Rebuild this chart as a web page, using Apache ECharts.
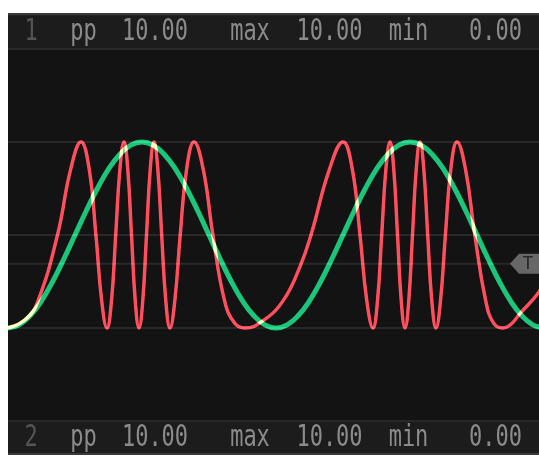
<!DOCTYPE html>
<html>
<head>
<meta charset="utf-8">
<script src="https://cdn.jsdelivr.net/npm/echarts@6/dist/echarts.min.js"></script>
<style>
  html, body { margin: 0; padding: 0; background: #ffffff; }
  #scope { position: absolute; left: 8px; top: 13px; width: 531px; height: 442px; }
</style>
</head>
<body>
<div id="scope"></div>
<script>
// Channel 1 (green): reference sine, 24 samples per period
const ch1Time = [0, 11.17, 22.33, 33.5, 44.67, 55.83, 67, 78.17, 89.33, 100.5, 111.67, 122.83,
  134, 145.17, 156.33, 167.5, 178.67, 189.83, 201, 212.17, 223.33, 234.5, 245.67, 256.83,
  268, 279.17, 290.33, 301.5, 312.67, 323.83, 335, 346.17, 357.33, 368.5, 379.67, 390.83,
  402, 413.17, 424.33, 435.5, 446.67, 457.83, 469, 480.17, 491.33, 502.5, 513.67, 524.83, 536];
const ch1Volts = [0, 0.17, 0.67, 1.46, 2.5, 3.71, 5, 6.29, 7.5, 8.54, 9.33, 9.83,
  10, 9.83, 9.33, 8.54, 7.5, 6.29, 5, 3.71, 2.5, 1.46, 0.67, 0.17,
  0, 0.17, 0.67, 1.46, 2.5, 3.71, 5, 6.29, 7.5, 8.54, 9.33, 9.83,
  10, 9.83, 9.33, 8.54, 7.5, 6.29, 5, 3.71, 2.5, 1.46, 0.67, 0.17, 0];

// Channel 2 (red): frequency-modulated carrier, peaks / troughs / quarter-phase samples
const ch2Time = [0, 18, 30, 49.5, 62.7, 73, 81.2, 87.9, 93.7, 99,
  103.5, 107.7, 111.9, 116, 119.75, 123.5, 127.25, 131, 134.75, 138.5,
  142.25, 146, 149.8, 153.7, 157.8, 162, 166.8, 172.2, 178.6, 186,
  195.2, 204.9, 216.6, 226.8, 237, 254, 275, 292, 303, 321.5,
  335, 344.3, 352, 358.8, 365, 369.5, 373.7, 377.9, 382, 385.75,
  389.5, 393.25, 397, 400.75, 404.5, 408.25, 412, 415.8, 419.7, 423.8,
  428, 432.5, 437.4, 442.8, 449, 457.5, 466.8, 477.75, 485.8, 495,
  503, 512, 531, 539];
const ch2Volts = [0, 0.48, 1.46, 5, 8.54, 10, 8.54, 5, 1.46, 0,
  1.46, 5, 8.54, 10, 8.54, 5, 1.46, 0, 1.46, 5,
  8.54, 10, 8.54, 5, 1.46, 0, 1.46, 5, 8.54, 10,
  8.54, 5, 1.46, 0.25, 0, 0.35, 1.46, 3.3, 5, 8.54,
  10, 8.54, 5, 1.46, 0, 1.46, 5, 8.54, 10, 8.54,
  5, 1.46, 0, 1.46, 5, 8.54, 10, 8.54, 5, 1.46,
  0, 1.46, 5, 8.54, 10, 8.54, 5, 1.46, 0.25, 0,
  0.2, 0.78, 1.94, 2.87];

const triggerLevel = 3.45;
const timeSpan = [0, 531];
const voltRange = [-5, 15];
const voltStep = 5;

// Measurement readouts, one row per channel
const readoutTop = ['1', 'pp', '10.00', 'max', '10.00', 'min', '0.00'];
const readoutBottom = ['2', 'pp', '10.00', 'max', '10.00', 'min', '0.00'];

const chart = echarts.init(document.getElementById('scope'), null, { renderer: 'canvas' });

const GRID_LINE = '#282828';
const BAR_FILL = '#1c1c1c';
const FRAME = '#3a3a3a';
const FONT = '22px "DejaVu Sans Mono"';
const readoutX = [23, 75.5, 147, 242, 321.5, 400.5, 487.5];

function readoutRow(tokens, cy) {
  return tokens.map((t, i) => ({
    type: 'text',
    x: readoutX[i],
    y: cy,
    scaleY: 1.33,
    z: 10,
    style: {
      text: t,
      font: FONT,
      fill: i === 0 ? '#555555' : '#8b8b8b',
      align: 'center', textAlign: 'center',
      verticalAlign: 'middle', textVerticalAlign: 'middle'
    }
  }));
}

const pairs = (xs, ys) => xs.map((x, i) => [x, ys[i]]);

chart.setOption({
  animation: false,
  backgroundColor: '#131313',
  grid: { left: 0, right: 0, top: 36, bottom: 34 },
  xAxis: {
    type: 'value', min: timeSpan[0], max: timeSpan[1],
    show: false, splitLine: { show: false }
  },
  yAxis: {
    type: 'value', min: voltRange[0], max: voltRange[1], interval: voltStep,
    axisLine: { show: false }, axisTick: { show: false }, axisLabel: { show: false },
    splitLine: { show: true, lineStyle: { color: GRID_LINE, width: 2 } }
  },
  graphic: [
    { type: 'rect', z: -1, shape: { x: 0, y: 0, width: 531, height: 2.5 }, style: { fill: FRAME } },
    { type: 'rect', z: -1, shape: { x: 0, y: 2.5, width: 531, height: 33 }, style: { fill: BAR_FILL } },
    { type: 'rect', z: -1, shape: { x: 0, y: 409, width: 531, height: 31 }, style: { fill: BAR_FILL } },
    { type: 'rect', z: -1, shape: { x: 0, y: 440, width: 531, height: 2 }, style: { fill: FRAME } },
    ...readoutRow(readoutTop, 19.5),
    ...readoutRow(readoutBottom, 425)
  ],
  series: [
    {
      name: 'trigger',
      type: 'line',
      z: 1,
      silent: true,
      showSymbol: false,
      data: [[timeSpan[0], triggerLevel], [timeSpan[1], triggerLevel]],
      lineStyle: { color: GRID_LINE, width: 2 },
      markPoint: {
        silent: true,
        symbol: 'path://M0,10L9,0L30,0L30,20L9,20Z',
        symbolSize: [30, 20],
        symbolOffset: [-14, 0],
        itemStyle: { color: '#676767' },
        label: {
          show: true, formatter: 'T', color: '#2a2a2a',
          fontFamily: 'DejaVu Sans Mono', fontSize: 18, offset: [3, 0]
        },
        data: [{ coord: [timeSpan[1], triggerLevel] }]
      }
    },
    {
      name: 'CH1',
      type: 'line',
      z: 2,
      smooth: 0.45,
      showSymbol: false,
      blendMode: 'lighter',
      data: pairs(ch1Time, ch1Volts),
      lineStyle: { color: '#08b267', width: 5 }
    },
    {
      name: 'CH2',
      type: 'line',
      z: 3,
      smooth: 0.45,
      showSymbol: false,
      blendMode: 'lighter',
      data: pairs(ch2Time, ch2Volts),
      lineStyle: { color: '#ff3c4c', width: 3.4 }
    }
  ]
});
</script>
</body>
</html>
